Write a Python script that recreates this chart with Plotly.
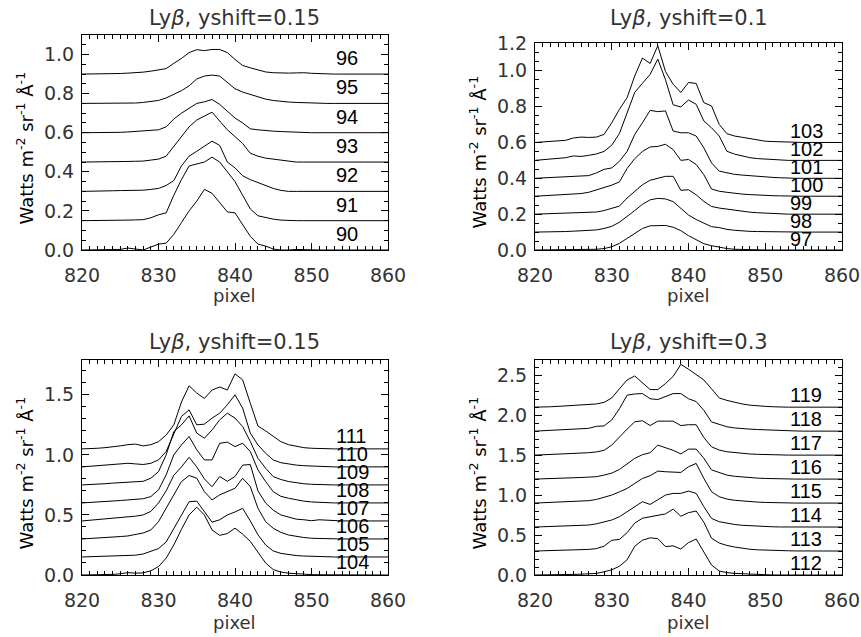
import plotly.graph_objects as go

# detector pixel grid shared by every spectrum
PIXELS = list(range(820, 861))

# ---- Ly-beta profiles (W m^-2 sr^-1 A^-1), one list per detector row ----
# rows 90-96
R90 = [0, 0, 0, 0, 0, 0.003, 0.01, 0.005, 0.0, 0.015,
       0.03, 0.035, 0.08, 0.14, 0.20, 0.25, 0.31, 0.29, 0.24, 0.195,
       0.19, 0.13, 0.07, 0.03, 0.02, 0.005, 0, 0, 0.003, 0.002,
       0, 0, 0, 0, 0, 0, 0, 0, 0, 0, 0]
R91 = [0, 0, 0.002, 0.002, 0.003, 0.003, 0.003, 0.004, 0.005, 0.015,
       0.03, 0.04, 0.13, 0.21, 0.28, 0.29, 0.30, 0.325, 0.30, 0.25,
       0.20, 0.13, 0.06, 0.025, 0.015, 0.008, 0.003, 0, 0, 0,
       0, 0, 0, 0, 0, 0, 0, 0, 0, 0, 0]
R92 = [0, 0, 0.001, 0.002, 0.003, 0.004, 0.004, 0.005, 0.006, 0.01,
       0.015, 0.03, 0.055, 0.13, 0.18, 0.205, 0.23, 0.257, 0.235, 0.15,
       0.12, 0.08, 0.06, 0.045, 0.03, 0.015, 0.005, 0, 0, 0,
       0, 0, 0, 0, 0, 0, 0, 0, 0, 0, 0]
R93 = [0, 0, 0.001, 0.002, 0.002, 0.003, 0.003, 0.004, 0.005, 0.01,
       0.015, 0.03, 0.08, 0.13, 0.18, 0.215, 0.235, 0.255, 0.21, 0.165,
       0.13, 0.095, 0.045, 0.03, 0.02, 0.015, 0.01, 0.005, 0, 0,
       0, 0, 0, 0, 0, 0, 0, 0, 0, 0, 0]
R94 = [0, 0, 0, 0.001, 0.001, 0.002, 0.004, 0.006, 0.008, 0.01,
       0.015, 0.03, 0.07, 0.10, 0.125, 0.15, 0.158, 0.17, 0.145, 0.11,
       0.075, 0.05, 0.02, 0.015, 0.01, 0.008, 0.006, 0.004, 0.003, 0.001,
       0, 0, 0, 0, 0, 0, 0, 0, 0, 0, 0]
R95 = [0, 0, 0, 0, 0, 0.001, 0.001, 0.002, 0.005, 0.01,
       0.015, 0.028, 0.045, 0.065, 0.09, 0.125, 0.14, 0.145, 0.14, 0.105,
       0.075, 0.058, 0.045, 0.032, 0.022, 0.015, 0.01, 0.007, 0.005, 0.003,
       0.002, 0, 0, 0, 0, 0, 0, 0, 0, 0, 0]
R96 = [0, 0, 0.001, 0.002, 0.002, 0.003, 0.005, 0.007, 0.01, 0.015,
       0.02, 0.028, 0.055, 0.08, 0.11, 0.125, 0.12, 0.126, 0.126, 0.11,
       0.075, 0.044, 0.032, 0.02, 0.011, 0.007, 0.005, 0.005, 0.006, 0.007,
       0.004, 0.002, 0, 0, 0, 0, 0, 0, 0, 0, 0]

# rows 97-103
R97 = [0, 0, 0, 0, 0, 0, 0, 0.002, 0.004, 0.008,
       0.018, 0.037, 0.065, 0.093, 0.12, 0.135, 0.136, 0.137, 0.127, 0.108,
       0.08, 0.056, 0.035, 0.024, 0.015, 0.008, 0.004, 0.002, 0, 0,
       0, 0, 0, 0, 0, 0, 0, 0, 0, 0, 0]
R98 = [0, 0, 0.001, 0.002, 0.003, 0.005, 0.007, 0.01, 0.012, 0.02,
       0.032, 0.055, 0.085, 0.12, 0.155, 0.18, 0.188, 0.185, 0.17, 0.135,
       0.095, 0.07, 0.05, 0.03, 0.025, 0.015, 0.01, 0.006, 0.004, 0.003,
       0.002, 0, 0, 0, 0, 0, 0, 0, 0, 0, 0]
R99 = [0, 0.001, 0.002, 0.004, 0.005, 0.007, 0.008, 0.01, 0.012, 0.02,
       0.034, 0.045, 0.09, 0.127, 0.164, 0.189, 0.202, 0.211, 0.211, 0.133,
       0.136, 0.108, 0.071, 0.043, 0.034, 0.028, 0.02, 0.015, 0.011, 0.008,
       0.005, 0.003, 0.002, 0, 0, 0, 0, 0, 0, 0, 0]
R100 = [0, 0.002, 0.004, 0.006, 0.008, 0.01, 0.015, 0.022, 0.035, 0.05,
        0.062, 0.08, 0.155, 0.21, 0.25, 0.275, 0.278, 0.29, 0.26, 0.2,
        0.205, 0.177, 0.12, 0.04, 0.028, 0.022, 0.015, 0.012, 0.009, 0.006,
        0.004, 0.003, 0.002, 0, 0, 0, 0, 0, 0, 0, 0]
R101 = [0, 0.002, 0.004, 0.006, 0.01, 0.012, 0.014, 0.015, 0.03, 0.05,
        0.058, 0.095, 0.15, 0.245, 0.31, 0.379, 0.372, 0.376, 0.264, 0.254,
        0.254, 0.236, 0.17, 0.086, 0.04, 0.03, 0.022, 0.018, 0.014, 0.01,
        0.007, 0.005, 0.003, 0, 0, 0, 0, 0, 0, 0, 0]
R102 = [0, 0.003, 0.005, 0.01, 0.015, 0.025, 0.022, 0.028, 0.036, 0.05,
        0.085, 0.15, 0.27, 0.38, 0.43, 0.48, 0.565, 0.45, 0.31, 0.298,
        0.337, 0.313, 0.22, 0.182, 0.136, 0.051, 0.035, 0.025, 0.015, 0.01,
        0.007, 0.005, 0.003, 0, 0, 0, 0, 0, 0, 0, 0]
R103 = [0, 0.002, 0.004, 0.007, 0.012, 0.025, 0.03, 0.028, 0.03, 0.045,
        0.11, 0.185, 0.25, 0.372, 0.471, 0.441, 0.54, 0.396, 0.325, 0.279,
        0.335, 0.329, 0.222, 0.204, 0.101, 0.049, 0.036, 0.029, 0.022, 0.015,
        0.007, 0.005, 0.003, 0, 0, 0, 0, 0, 0, 0, 0]

# rows 104-111
R104 = [0, 0, 0, 0.002, 0.005, 0.01, 0.02, 0.015, 0.018, 0.035,
        0.07, 0.14, 0.25, 0.38, 0.5, 0.565, 0.5, 0.375, 0.33, 0.345,
        0.39, 0.34, 0.28, 0.19, 0.1, 0.045, 0.025, 0.015, 0.01, 0.006,
        0.003, 0.002, 0.001, 0, 0, 0, 0, 0, 0, 0, 0]
R105 = [0, 0.002, 0.004, 0.006, 0.008, 0.01, 0.012, 0.015, 0.025, 0.045,
        0.07, 0.125, 0.235, 0.345, 0.46, 0.465, 0.38, 0.29, 0.31, 0.35,
        0.375, 0.405, 0.3, 0.185, 0.1, 0.05, 0.03, 0.018, 0.012, 0.008,
        0.005, 0.003, 0.002, 0, 0, 0, 0, 0, 0, 0, 0]
R106 = [0, 0.003, 0.006, 0.01, 0.015, 0.02, 0.025, 0.035, 0.05, 0.075,
        0.144, 0.256, 0.367, 0.478, 0.528, 0.506, 0.394, 0.325, 0.367, 0.394,
        0.422, 0.506, 0.436, 0.256, 0.144, 0.089, 0.055, 0.033, 0.02, 0.012,
        0.006, 0.003, 0, 0, 0, 0, 0, 0, 0, 0, 0]
R107 = [0, 0.005, 0.01, 0.015, 0.02, 0.025, 0.03, 0.04, 0.05, 0.08,
        0.15, 0.25, 0.38, 0.45, 0.53, 0.45, 0.35, 0.285, 0.37, 0.33,
        0.37, 0.465, 0.47, 0.25, 0.15, 0.09, 0.05, 0.03, 0.015, 0.01,
        0.002, 0.01, 0.005, 0, 0, 0, 0, 0, 0, 0, 0]
R108 = [0, 0.003, 0.006, 0.01, 0.015, 0.02, 0.025, 0.028, 0.035, 0.053,
        0.108, 0.233, 0.4, 0.483, 0.553, 0.442, 0.358, 0.358, 0.497, 0.506,
        0.469, 0.497, 0.428, 0.275, 0.178, 0.094, 0.055, 0.039, 0.025, 0.015,
        0.008, 0.004, 0.002, 0, 0, 0, 0, 0, 0, 0, 0]
R109 = [0, 0.002, 0.005, 0.01, 0.015, 0.02, 0.025, 0.025, 0.03, 0.056,
        0.111, 0.25, 0.444, 0.5, 0.575, 0.431, 0.389, 0.458, 0.542, 0.597,
        0.556, 0.486, 0.361, 0.222, 0.139, 0.069, 0.045, 0.028, 0.018, 0.01,
        0.005, 0.002, 0, 0, 0, 0, 0, 0, 0, 0, 0]
R110 = [0, 0.005, 0.01, 0.015, 0.02, 0.025, 0.03, 0.025, 0.02, 0.03,
        0.058, 0.128, 0.267, 0.42, 0.475, 0.35, 0.356, 0.406, 0.447, 0.517,
        0.6, 0.489, 0.281, 0.183, 0.114, 0.058, 0.035, 0.022, 0.015, 0.01,
        0.006, 0.003, 0, 0, 0, 0, 0, 0, 0, 0, 0]
R111 = [0, 0, 0.005, 0.01, 0.015, 0.025, 0.035, 0.04, 0.025, 0.035,
        0.06, 0.115, 0.2, 0.39, 0.525, 0.465, 0.42, 0.49, 0.515, 0.49,
        0.625, 0.575, 0.38, 0.19, 0.15, 0.105, 0.06, 0.035, 0.02, 0.01,
        0.005, 0.002, 0, 0, 0, 0, 0, 0, 0, 0, 0]

# rows 112-119
R112 = [0, 0, 0, 0.003, 0.005, 0.008, 0.01, 0.015, 0.02, 0.04,
        0.065, 0.11, 0.19, 0.36, 0.435, 0.465, 0.455, 0.355, 0.365, 0.325,
        0.405, 0.45, 0.29, 0.125, 0.05, 0.03, 0.02, 0.015, 0.01, 0.005,
        0.002, 0, 0, 0, 0, 0, 0, 0, 0, 0, 0]
R113 = [0, 0.002, 0.005, 0.008, 0.01, 0.013, 0.016, 0.02, 0.03, 0.06,
        0.135, 0.145, 0.23, 0.35, 0.41, 0.43, 0.445, 0.465, 0.525, 0.435,
        0.48, 0.5, 0.36, 0.16, 0.1, 0.07, 0.05, 0.035, 0.022, 0.015,
        0.01, 0.007, 0.005, 0.003, 0.001, 0, 0, 0, 0, 0, 0]
R114 = [0, 0.003, 0.006, 0.01, 0.013, 0.017, 0.02, 0.025, 0.04, 0.06,
        0.088, 0.129, 0.192, 0.254, 0.317, 0.283, 0.338, 0.4, 0.421, 0.421,
        0.45, 0.421, 0.254, 0.108, 0.067, 0.046, 0.032, 0.022, 0.015, 0.01,
        0.006, 0.003, 0.001, 0, 0, 0, 0, 0, 0, 0, 0]
R115 = [0, 0.003, 0.006, 0.01, 0.015, 0.02, 0.025, 0.03, 0.045, 0.07,
        0.1, 0.14, 0.183, 0.246, 0.308, 0.342, 0.4, 0.392, 0.392, 0.383,
        0.454, 0.496, 0.308, 0.142, 0.079, 0.05, 0.035, 0.025, 0.018, 0.012,
        0.008, 0.004, 0.002, 0, 0, 0, 0, 0, 0, 0, 0]
R116 = [0, 0.002, 0.005, 0.008, 0.012, 0.015, 0.02, 0.025, 0.03, 0.05,
        0.075, 0.12, 0.19, 0.26, 0.305, 0.33, 0.425, 0.395, 0.36, 0.315,
        0.375, 0.375, 0.26, 0.115, 0.08, 0.05, 0.035, 0.025, 0.018, 0.012,
        0.008, 0.004, 0.002, 0, 0, 0, 0, 0, 0, 0, 0]
R117 = [0, 0.003, 0.006, 0.01, 0.015, 0.02, 0.025, 0.03, 0.04, 0.06,
        0.125, 0.229, 0.325, 0.417, 0.43, 0.37, 0.425, 0.425, 0.425, 0.37,
        0.38, 0.38, 0.22, 0.104, 0.063, 0.042, 0.03, 0.02, 0.014, 0.01,
        0.006, 0.003, 0, 0, 0, 0, 0, 0, 0, 0, 0]
R118 = [0, 0.005, 0.01, 0.015, 0.02, 0.025, 0.03, 0.035, 0.06, 0.065,
        0.14, 0.28, 0.45, 0.465, 0.47, 0.405, 0.395, 0.43, 0.47, 0.47,
        0.405, 0.37, 0.26, 0.115, 0.085, 0.055, 0.04, 0.03, 0.025, 0.02,
        0.015, 0.01, 0.007, 0.004, 0.002, 0, 0, 0, 0, 0, 0]
R119 = [0, 0, 0.005, 0.01, 0.015, 0.025, 0.03, 0.03, 0.04, 0.06,
        0.115, 0.23, 0.34, 0.39, 0.31, 0.22, 0.22, 0.295, 0.385, 0.535,
        0.475, 0.41, 0.34, 0.23, 0.115, 0.085, 0.06, 0.04, 0.025, 0.015,
        0.01, 0.005, 0, 0, 0, 0, 0, 0, 0, 0, 0]

# ---- panel groupings ----
ROWS_A = [90, 91, 92, 93, 94, 95, 96]
ROWS_B = [97, 98, 99, 100, 101, 102, 103]
ROWS_C = [104, 105, 106, 107, 108, 109, 110, 111]
ROWS_D = [112, 113, 114, 115, 116, 117, 118, 119]
SPEC_A = [R90, R91, R92, R93, R94, R95, R96]
SPEC_B = [R97, R98, R99, R100, R101, R102, R103]
SPEC_C = [R104, R105, R106, R107, R108, R109, R110, R111]
SPEC_D = [R112, R113, R114, R115, R116, R117, R118, R119]
YSHIFTS = [0.15, 0.1, 0.15, 0.3]

# ---- styling ----
W, H = 861, 637
THIN = "DejaVu Sans, sans-serif"
TICK_FONT = dict(family=THIN, size=19, color="#333")
LABEL_FONT = dict(family="Liberation Sans, Arial, sans-serif", size=20, color="black")

panels = [
    dict(rows=ROWS_A, spectra=SPEC_A, shift=YSHIFTS[0], box=(82, 388, 35, 250),
         yrange=[0, 1.1], ytick=dict(dtick=0.2), yminor=0.05, lab_shift=3, row=0),
    dict(rows=ROWS_B, spectra=SPEC_B, shift=YSHIFTS[1], box=(535, 842, 43, 250),
         yrange=[0, 1.155],
         ytick=dict(tickmode="array", tickvals=[0, 0.2, 0.4, 0.6, 0.8, 1.0, 1.155],
                    ticktext=["0.0", "0.2", "0.4", "0.6", "0.8", "1.0", "1.2"]),
         yminor=0.05, lab_shift=-2, row=0),
    dict(rows=ROWS_C, spectra=SPEC_C, shift=YSHIFTS[2], box=(82, 388, 360, 575),
         yrange=[0, 1.79], ytick=dict(dtick=0.5), yminor=0.1, lab_shift=0, row=1),
    dict(rows=ROWS_D, spectra=SPEC_D, shift=YSHIFTS[3], box=(535, 842, 360, 575),
         yrange=[0, 2.69], ytick=dict(dtick=0.5), yminor=0.1, lab_shift=-1, row=1),
]
TITLE_Y = [18, 342]
XLABEL_Y = [295, 622]

fig = go.Figure()
annotations = []
layout = {}

for i, p in enumerate(panels, start=1):
    sfx = "" if i == 1 else str(i)
    xa, ya = "x" + sfx, "y" + sfx
    x0, x1, y0, y1 = p["box"]
    for k, (row, spec) in enumerate(zip(p["rows"], p["spectra"])):
        offset = k * p["shift"]
        fig.add_trace(go.Scatter(
            x=PIXELS, y=[v + offset for v in spec], mode="lines",
            line=dict(color="black", width=1), xaxis=xa, yaxis=ya,
            showlegend=False, hoverinfo="skip"))
        annotations.append(dict(
            x=853, y=offset, xref=xa, yref=ya, text=str(row), showarrow=False,
            xanchor="left", yanchor="bottom", yshift=p["lab_shift"],
            font=LABEL_FONT))

    common = dict(showline=True, linecolor="black", linewidth=1, mirror="ticks",
                  ticks="inside", ticklen=7, tickwidth=1, tickcolor="black",
                  showgrid=False, zeroline=False, tickfont=TICK_FONT,
                  automargin=False)
    layout["xaxis" + sfx] = dict(
        domain=[x0 / W, x1 / W], range=[820, 860], anchor=ya, tick0=820, dtick=10,
        minor=dict(ticks="inside", ticklen=4, dtick=1, tick0=820, tickcolor="black",
                   showgrid=False),
        ticklabelstandoff=8, **common)
    layout["yaxis" + sfx] = dict(
        domain=[1 - y1 / H, 1 - y0 / H], range=p["yrange"], anchor=xa,
        tickformat=".1f", tick0=0, **p["ytick"],
        minor=dict(ticks="inside", ticklen=4, dtick=p["yminor"], tick0=0,
                   tickcolor="black", showgrid=False),
        ticklabelstandoff=3, **common)

    cx = (x0 + x1) / 2 / W
    annotations.append(dict(
        x=cx, y=1 - TITLE_Y[p["row"]] / H, xref="paper", yref="paper",
        text=f"Ly<i>β</i>, yshift={p['shift']:g}", showarrow=False,
        xanchor="center", yanchor="middle",
        font=dict(family=THIN, size=21, color="#333")))
    annotations.append(dict(
        x=cx, y=1 - XLABEL_Y[p["row"]] / H, xref="paper", yref="paper", text="pixel",
        showarrow=False, xanchor="center", yanchor="middle",
        font=dict(family=THIN, size=18, color="#333")))
    annotations.append(dict(
        x=(x0 - 57) / W, y=1 - ((y0 + y1) / 2 + 6) / H, xref="paper", yref="paper",
        text="Watts m<sup>-2</sup> sr<sup>-1</sup> Å<sup>-1</sup>",
        showarrow=False, textangle=-90, xanchor="center", yanchor="middle",
        font=dict(family=THIN, size=18, color="black")))

fig.update_layout(
    width=W, height=H, autosize=False,
    margin=dict(l=0, r=0, t=0, b=0, pad=0, autoexpand=False),
    paper_bgcolor="white", plot_bgcolor="white",
    annotations=annotations, **layout)

fig.write_html("out.html")
